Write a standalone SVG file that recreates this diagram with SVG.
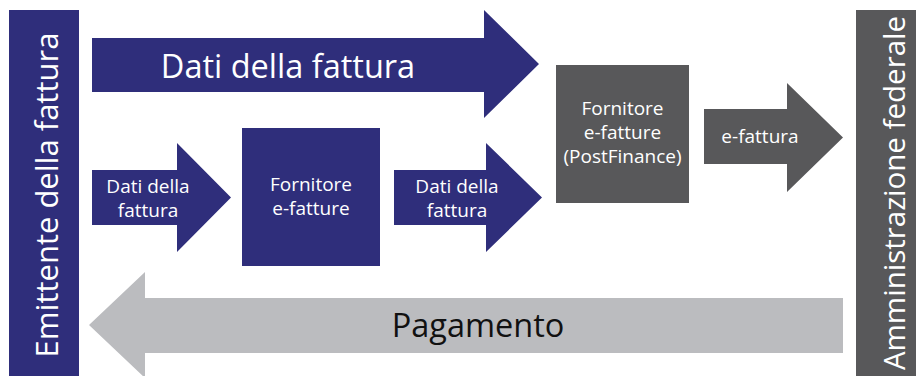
<svg xmlns="http://www.w3.org/2000/svg" width="916" height="376" viewBox="0 0 916 376">
<style>
.navy{fill:#2f2e7b}
.dark{fill:#58585a}
.light{fill:#bbbcbf}
text{font-family:"Open Sans","Noto Sans","Liberation Sans",sans-serif}
.big{font-size:32px;fill:#ffffff}
.sm{font-size:19px;fill:#ffffff;text-anchor:middle}
.blk{font-size:32.5px;fill:#111111;text-anchor:middle}
</style>
<rect width="916" height="376" fill="#ffffff"/>
<g id="emittente">
<rect class="navy" x="9" y="10" width="70" height="366"/>
<text class="big" text-anchor="middle" transform="translate(58,195) rotate(-90)" style="font-size:31px">Emittente della fattura</text>
</g>
<g id="amministrazione">
<rect class="dark" x="856" y="10" width="60" height="366"/>
<text class="big" text-anchor="middle" transform="translate(905,193) rotate(-90)" style="font-size:29.5px">Amministrazione federale</text>
</g>
<g id="fornitore">
<rect class="navy" x="242" y="128" width="138" height="138"/>
<text class="sm" x="311" y="191">Fornitore</text>
<text class="sm" x="311" y="214.5">e-fatture</text>
</g>
<g id="fornitore-postfinance">
<rect class="dark" x="556" y="65" width="133" height="138"/>
<text class="sm" x="622.5" y="115">Fornitore</text>
<text class="sm" x="622.5" y="139">e-fatture</text>
<text class="sm" x="622.5" y="163">(PostFinance)</text>
</g>
<g id="connectors">
<g id="arrow-dati-top">
<polygon class="navy" points="92,38 484,38 484,10 539,64 484,118 484,92 92,92"/>
<text class="big" text-anchor="middle" x="288" y="77.5" style="font-size:32.5px">Dati della fattura</text>
</g>
<g id="arrow-dati-1">
<polygon class="navy" points="92,170 177,170 177,143 231,197.5 177,252 177,225 92,225"/>
<text class="sm" x="148" y="193">Dati della</text>
<text class="sm" x="148" y="216.5">fattura</text>
</g>
<g id="arrow-dati-2">
<polygon class="navy" points="394,170 486,170 486,143 542,197.5 486,252 486,225 394,225"/>
<text class="sm" x="457" y="193">Dati della</text>
<text class="sm" x="457" y="216.5">fattura</text>
</g>
<g id="arrow-efattura">
<polygon class="dark" points="704,109 787,109 787,83 843,137.5 787,192 787,164 704,164"/>
<text class="sm" x="760" y="143">e-fattura</text>
</g>
<g id="arrow-pagamento">
<polygon class="light" points="843,298 145,298 145,272 89,325 145,378 145,353 843,353"/>
<text class="blk" x="478" y="337">Pagamento</text>
</g>
</g>
</svg>
